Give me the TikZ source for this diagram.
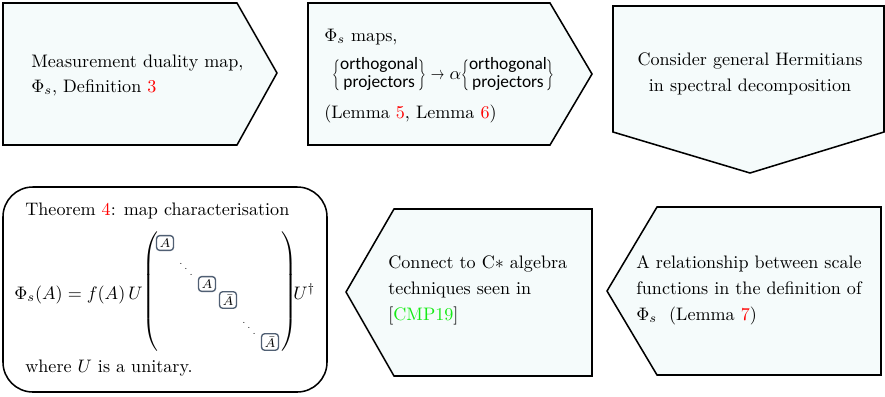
\documentclass[tikz,border=0pt]{standalone}
\usepackage{fontspec}
\usepackage{amsmath}
\usepackage{graphicx}
\newfontfamily\calib{Carlito}
\definecolor{boxfill}{RGB}{245,251,251}
\definecolor{refred}{RGB}{255,0,0}
\definecolor{citegreen}{RGB}{20,235,20}
\definecolor{entryc}{RGB}{80,95,115}
\newcommand{\orthproj}{\vcenter{\hbox{\renewcommand{\arraystretch}{0.8}\begin{tabular}{@{}c@{}}orthogonal\\projectors\end{tabular}}}}
\newcommand{\lbr}{\mathopen{\scalebox{0.65}[0.95]{$\Bigl\{$}}}
\newcommand{\rbr}{\mathclose{\scalebox{0.65}[0.95]{$\Bigr\}$}}}
\newcommand{\shortto}{\mathrel{\scalebox{0.75}[1]{$\rightarrow$}}}
\begin{document}
\begin{tikzpicture}[x=0.553pt,y=-0.553pt,
  shapebox/.style={draw=black, line width=0.85pt, fill=boxfill, line join=miter},
  txt/.style={anchor=base west, inner sep=0pt},
  ctxt/.style={anchor=base, inner sep=0pt},
  entry/.style={draw=entryc, line width=0.75pt, rounded corners=1.8pt, inner sep=1.7pt, font=\fontsize{7}{8}\selectfont, fill=white},
  dotsn/.style={inner sep=0pt, font=\tiny}]
\useasboundingbox (0,0) rectangle (885,396);
% shapes
\draw[shapebox] (3,3) -- (237,3) -- (277,73) -- (237,145) -- (3,145) -- cycle;
\draw[shapebox] (308,3) -- (550,3) -- (592,74) -- (550,145) -- (308,145) -- cycle;
\draw[shapebox] (613,6) -- (884,6) -- (884,132) -- (750,173) -- (613,132) -- cycle;
\draw[shapebox] (657,207) -- (881,207) -- (881,375) -- (657,375) -- (607,291) -- cycle;
\draw[shapebox] (394,209) -- (592,209) -- (592,376) -- (394,376) -- (346,292) -- cycle;
\draw[shapebox, fill=white, rounded corners=16.5pt] (3,187) rectangle (327,392);
% box 1
\node[txt] (m1) at (31,67) {Measurement duality map,};
\node[txt] (m2) at (31,92) {$\Phi_s$, Definition \textcolor{refred}{3}};
% box 2
\node[txt] (p1) at (324,41) {$\Phi_s$\ maps,};
\node[anchor=west, inner sep=0pt] (p2) at (332,75) {\calib\fontsize{9.6}{11.7}\selectfont
  $\lbr\orthproj\rbr\shortto\alpha\lbr\orthproj\rbr$};
\node[txt] (p3) at (324,118) {(Lemma \textcolor{refred}{5}, Lemma \textcolor{refred}{6})};
% box 3
\node[ctxt] (h1) at (750,65) {Consider general Hermitians};
\node[ctxt] (h2) at (750,91) {in spectral decomposition};
% box 4
\node[txt] (r1) at (636,268) {A relationship between scale};
\node[txt] (r2) at (636,294) {functions in the definition of};
\node[txt] (r3) at (636,320) {$\Phi_s$\ \ (Lemma \textcolor{refred}{7})};
% box 5
\node[txt] (c1) at (388,268) {Connect to C$*$ algebra};
\node[txt] (c2) at (388,294) {techniques seen in};
\node[txt] (c3) at (388,320) {[\textcolor{citegreen}{CMP19}]};
% box 6
\node[txt] (t1) at (25,215) {Theorem \textcolor{refred}{4}: map characterisation};
\node[txt] (eq) at (14,299) {$\Phi_s(A) = f(A)\,U$};
\node[inner sep=0pt] (lp) at (151,293.5) {$\left(\vrule height 33pt depth 33pt width 0pt\right.$};
\node[inner sep=0pt] (rp) at (288,293.5) {$\left.\vrule height 33pt depth 33pt width 0pt\right)$};
\node[txt] (ud) at (293,299) {$U^\dagger$};
\node[entry] (e1) at (165,243) {$A$};
\node[dotsn] (d1) at (186,264) {$\ddots$};
\node[entry] (e2) at (207,284) {$A$};
\node[entry] (e3) at (228,300) {$\bar A$};
\node[dotsn] (d2) at (249,323) {$\ddots$};
\node[entry] (e4) at (270,342) {$\bar A$};
\node[txt] (t3) at (25,372) {where $U$ is a unitary.};
\end{tikzpicture}
\end{document}
